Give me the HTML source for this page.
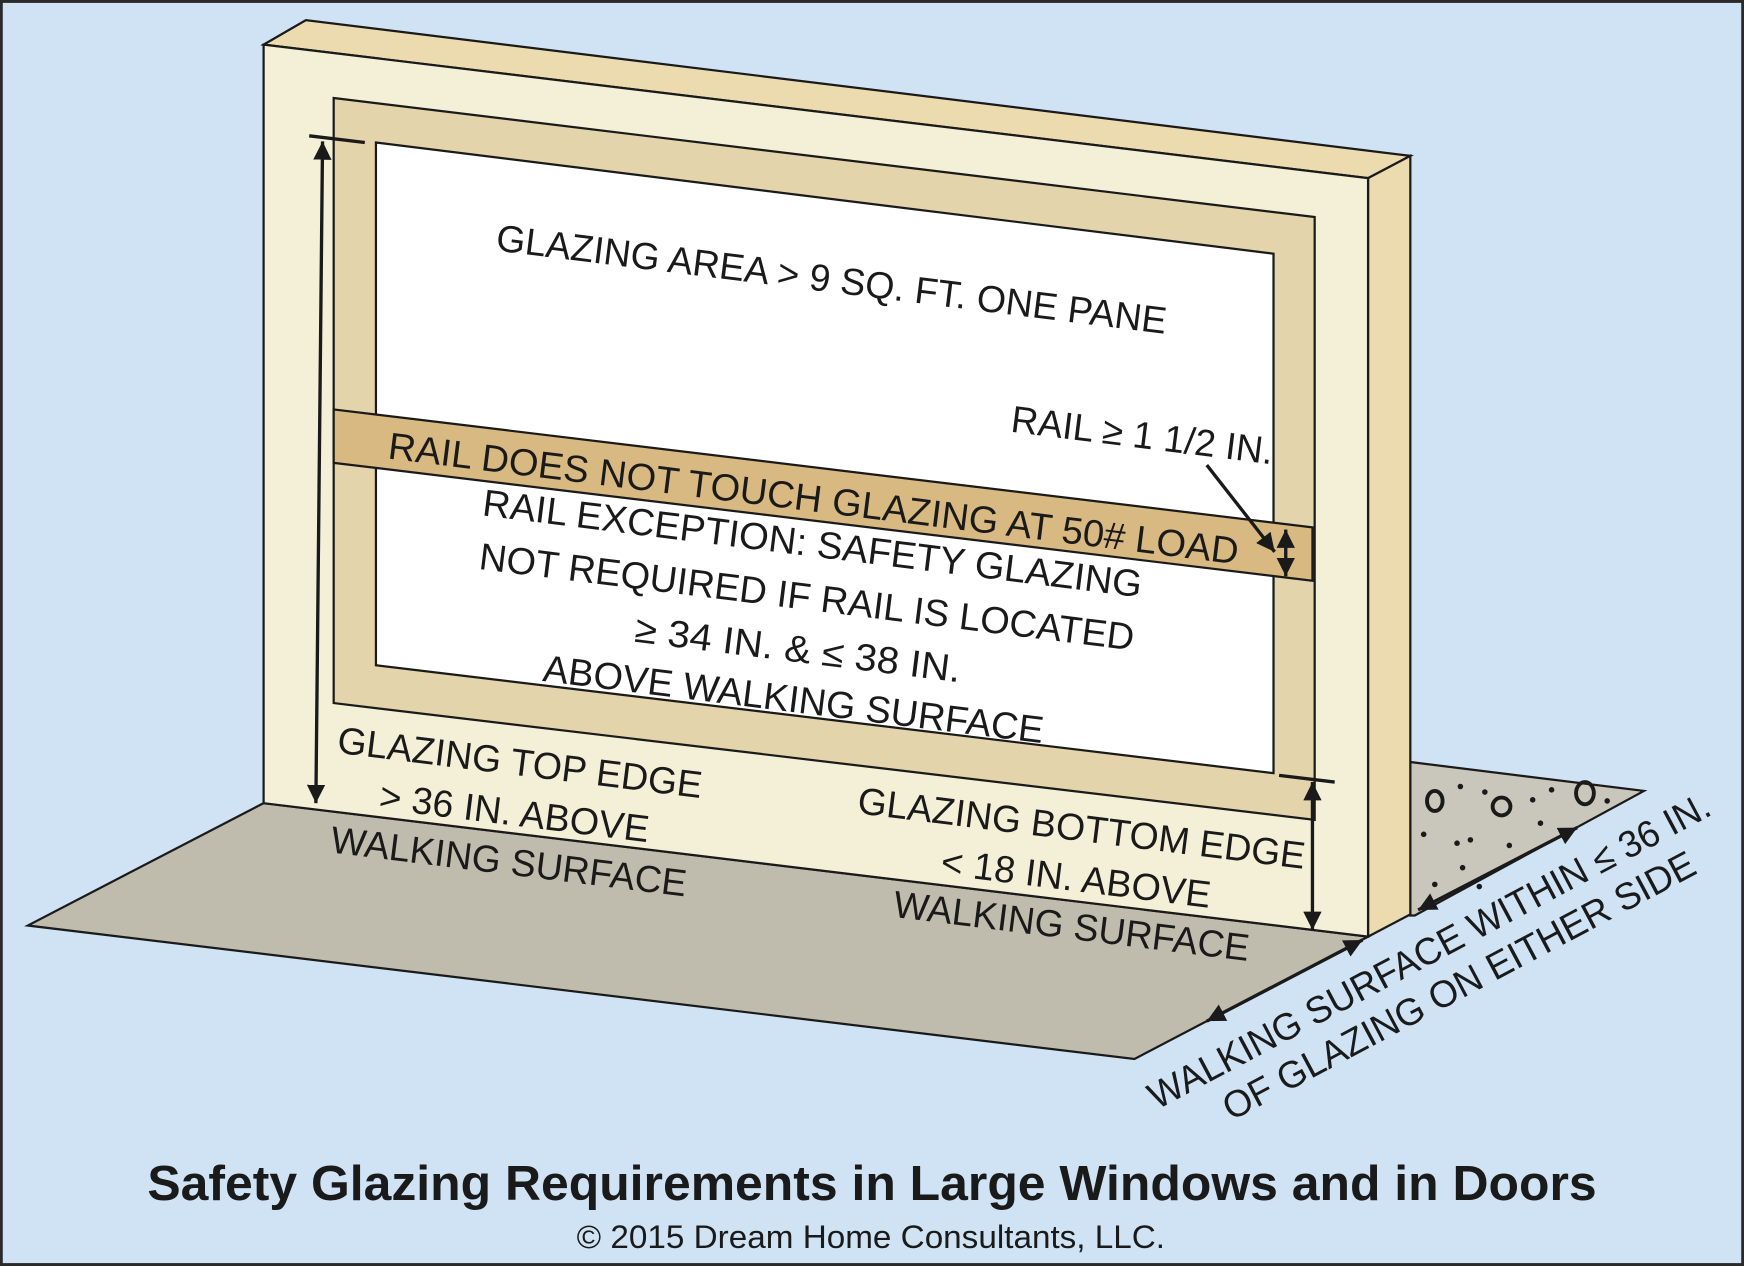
<!DOCTYPE html>
<html><head><style>html,body{margin:0;padding:0;background:#cfe3f5}svg{display:block}</style></head>
<body>
<svg width="1744" height="1266" viewBox="0 0 1568 1138" xmlns="http://www.w3.org/2000/svg" font-family="Liberation Sans, sans-serif">
<defs>
<marker id="ah" viewBox="0 0 10 10" refX="10" refY="5" markerWidth="5.5" markerHeight="5.5" orient="auto-start-reverse"><path d="M0,0L10,5L0,10z" fill="#1a1a1a"/></marker>
</defs>
<rect x="1" y="1" width="1566" height="1136" fill="#cfe3f5" stroke="#2a2a2a" stroke-width="3"/>
<polygon points="237,722 25,832 1020,952 1230,842" fill="#bfbcad" stroke="#1a1a1a" stroke-width="2"/>
<polygon points="1268,685 1478,711 1272,823 1268,823" fill="#c9c7bc" stroke="#1a1a1a" stroke-width="2"/>
<g fill="#1a1a1a">
<ellipse cx="1290" cy="720" rx="7" ry="9" fill="none" stroke="#1a1a1a" stroke-width="3.5"/>
<ellipse cx="1350" cy="725" rx="8" ry="8" fill="none" stroke="#1a1a1a" stroke-width="3.5"/>
<ellipse cx="1425" cy="713" rx="8" ry="10" fill="none" stroke="#1a1a1a" stroke-width="3.5"/>
<circle cx="1313" cy="707" r="2.5"/><circle cx="1335" cy="712" r="2.5"/><circle cx="1378" cy="719" r="2.5"/><circle cx="1395" cy="710" r="2.5"/><circle cx="1280" cy="750" r="2.5"/><circle cx="1310" cy="758" r="2.5"/><circle cx="1322" cy="755" r="2.5"/><circle cx="1357" cy="760" r="2.5"/><circle cx="1385" cy="740" r="2.5"/><circle cx="1290" cy="795" r="2.5"/><circle cx="1315" cy="780" r="2.5"/><circle cx="1330" cy="797" r="2.5"/><circle cx="1445" cy="720" r="2.5"/>
</g>
<polygon points="237,40 275,18 1268,140 1230,160" fill="#eddbb0" stroke="#1a1a1a" stroke-width="2"/>
<polygon points="1230,160 1268,140 1268,822 1230,842" fill="#eddbb0" stroke="#1a1a1a" stroke-width="2"/>
<polygon points="237,40 1230,160 1230,842 237,722" fill="#f4f0d8" stroke="#1a1a1a" stroke-width="2"/>
<polygon points="300,88 1182,195 1182,737 300,632" fill="#e4d4ac" stroke="#1a1a1a" stroke-width="2"/>
<polygon points="338,128 1145,228 1145,695 338,598" fill="#ffffff" stroke="#1a1a1a" stroke-width="2"/>
<polygon points="300,368 1180,474 1180,522 300,416" fill="#d8b982" stroke="#1a1a1a" stroke-width="2"/>
<g stroke="#1a1a1a" stroke-width="3" fill="none">
<line x1="278" y1="122" x2="328" y2="128"/>
<line x1="290" y1="127" x2="284" y2="722" marker-start="url(#ah)" marker-end="url(#ah)"/>
<line x1="1150" y1="697" x2="1200" y2="703"/>
<line x1="1180" y1="703" x2="1180" y2="836" marker-start="url(#ah)" marker-end="url(#ah)"/>
<line x1="1085" y1="418" x2="1146" y2="496" marker-end="url(#ah)"/>
<line x1="1156" y1="476" x2="1156" y2="518" marker-start="url(#ah)" marker-end="url(#ah)"/>
<line x1="1085" y1="918" x2="1225" y2="845" marker-start="url(#ah)" marker-end="url(#ah)"/>
<line x1="1275" y1="818" x2="1418" y2="744" marker-start="url(#ah)" marker-end="url(#ah)"/>
</g>
<g fill="#1a1a1a" font-size="34">
<text transform="translate(445,225) rotate(7.1)" textLength="607" lengthAdjust="spacingAndGlyphs">GLAZING AREA &gt; 9 SQ. FT. ONE PANE</text>
<text transform="translate(908,388) rotate(7.1)" textLength="237" lengthAdjust="spacingAndGlyphs">RAIL ≥ 1 1/2 IN.</text>
<text transform="translate(348,412) rotate(7.1)" textLength="770" lengthAdjust="spacingAndGlyphs">RAIL DOES  NOT TOUCH GLAZING AT 50# LOAD</text>
<g text-anchor="middle">
<text transform="translate(729,500) rotate(7.1)" textLength="597" lengthAdjust="spacingAndGlyphs">RAIL EXCEPTION:  SAFETY GLAZING</text>
<text transform="translate(724,548) rotate(7.1)" textLength="593" lengthAdjust="spacingAndGlyphs">NOT REQUIRED IF RAIL IS LOCATED</text>
<text transform="translate(716,595) rotate(7.1)" textLength="295" lengthAdjust="spacingAndGlyphs">≥ 34 IN.  &amp; ≤  38 IN.</text>
<text transform="translate(712,640) rotate(7.1)" textLength="453" lengthAdjust="spacingAndGlyphs">ABOVE WALKING SURFACE</text>
<text transform="translate(466,697) rotate(7.1)" textLength="330" lengthAdjust="spacingAndGlyphs">GLAZING TOP EDGE</text>
<text transform="translate(461,742) rotate(7.1)" textLength="244" lengthAdjust="spacingAndGlyphs">&gt; 36 IN. ABOVE</text>
<text transform="translate(456,786) rotate(7.1)" textLength="322" lengthAdjust="spacingAndGlyphs">WALKING SURFACE</text>
<text transform="translate(971,756) rotate(7.1)" textLength="405" lengthAdjust="spacingAndGlyphs">GLAZING BOTTOM EDGE</text>
<text transform="translate(966,801) rotate(7.1)" textLength="244" lengthAdjust="spacingAndGlyphs">&lt; 18 IN. ABOVE</text>
<text transform="translate(962,844) rotate(7.1)" textLength="322" lengthAdjust="spacingAndGlyphs">WALKING SURFACE</text>
</g>
<text transform="translate(1040,998) rotate(-28)" textLength="567" lengthAdjust="spacingAndGlyphs">WALKING SURFACE WITHIN ≤ 36 IN.</text>
<text transform="translate(1107,1008) rotate(-28)" textLength="476" lengthAdjust="spacingAndGlyphs">OF GLAZING ON EITHER SIDE</text>
</g>
<text x="784" y="1079" text-anchor="middle" font-size="44" font-weight="bold" fill="#1a1a1a" textLength="1303" lengthAdjust="spacingAndGlyphs">Safety Glazing Requirements in Large Windows and in Doors</text>
<text x="783" y="1122" text-anchor="middle" font-size="29" fill="#1a1a1a" textLength="529" lengthAdjust="spacingAndGlyphs">© 2015 Dream Home Consultants, LLC.</text>
</svg>
</body></html>
